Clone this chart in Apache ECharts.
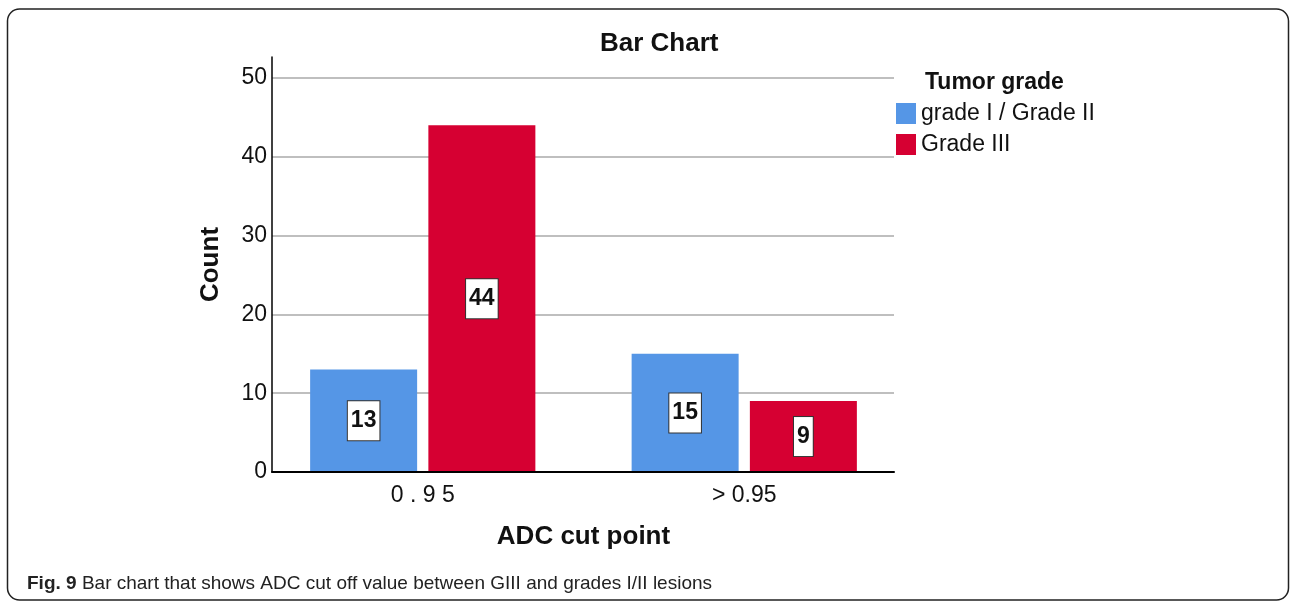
<!DOCTYPE html>
<html>
<head>
<meta charset="utf-8">
<script src="https://cdn.jsdelivr.net/npm/echarts@6/dist/echarts.min.js"></script>
<style>
  html, body { margin: 0; padding: 0; background: #fff; }
  #chart { width: 1292px; height: 601px; }
</style>
</head>
<body>
<div id="chart"></div>
<script>
const categories = ['0 . 9 5', '> 0.95'];
const seriesNames = ['grade I / Grade II', 'Grade III'];
const gradeI_II = [13, 15];
const gradeIII = [44, 9];
const yTicks = { min: 0, max: 50, interval: 10 };
const titleText = 'Bar Chart';
const legendTitle = 'Tumor grade';
const xName = 'ADC cut point';
const yName = 'Count';
const captionBold = 'Fig. 9';
const captionText = ' Bar chart that shows ADC cut off value between GIII and grades I/II lesions';

const FONT = '"Liberation Sans", Arial, sans-serif';
const colors = ['#5596E6', '#D60032'];

const chart = echarts.init(document.getElementById('chart'), null, { renderer: 'canvas' });

const labelStyle = {
  show: true,
  position: 'inside',
  color: '#111',
  fontFamily: FONT,
  fontWeight: 'bold',
  fontSize: 23,
  backgroundColor: '#fff',
  borderColor: '#333',
  borderWidth: 1,
  padding: [9, 3, 7, 3]
};

const option = {
  backgroundColor: '#fff',
  animation: false,
  textStyle: { fontFamily: FONT },
  title: [
    { text: titleText, left: 595, top: 26, textStyle: { fontFamily: FONT, fontSize: 26, fontWeight: 'bold', color: '#111' } },
    { text: legendTitle, left: 920, top: 66, textStyle: { fontFamily: FONT, fontSize: 23, fontWeight: 'bold', color: '#111' } },
    {
      text: '{b|' + captionBold + '}{n|' + captionText + '}',
      left: 22, top: 569,
      textStyle: {
        fontWeight: 'normal',
        rich: {
          b: { fontFamily: FONT, fontSize: 19, fontWeight: 'bold', color: '#222' },
          n: { fontFamily: FONT, fontSize: 19, fontWeight: 'normal', color: '#222' }
        }
      }
    }
  ],
  legend: {
    data: seriesNames,
    orient: 'vertical',
    left: 896, top: 102,
    padding: 0,
    icon: 'rect',
    itemWidth: 20, itemHeight: 21, itemGap: 8,
    textStyle: { fontFamily: FONT, fontSize: 23, color: '#111' }
  },
  grid: [
    { left: 272, right: 398, top: 57, bottom: 129 },
    { left: 272, right: 398, top: 78, bottom: 129 },
    { left: 262, width: 643, top: 78, bottom: 129 }
  ],
  xAxis: [
    { gridIndex: 0, type: 'category', data: categories, z: 5,
      axisLine: { show: true, lineStyle: { color: '#000', width: 2 } },
      axisTick: { show: false }, axisLabel: { show: false }, splitLine: { show: false } },
    { gridIndex: 1, type: 'category', data: categories, show: false },
    { gridIndex: 2, type: 'category', data: categories,
      axisLine: { show: false }, axisTick: { show: false },
      axisLabel: { show: true, margin: 12, fontFamily: FONT, fontSize: 23, color: '#111' },
      name: xName, nameLocation: 'middle', nameGap: 52,
      nameTextStyle: { fontFamily: FONT, fontSize: 26, fontWeight: 'bold', color: '#111' } }
  ],
  yAxis: [
    { gridIndex: 0, type: 'value', min: 0, max: 60, interval: 10,
      axisLine: { show: true, lineStyle: { color: '#000', width: 1.5 } },
      axisTick: { show: false }, axisLabel: { show: false }, splitLine: { show: false },
      name: yName, nameLocation: 'middle', nameRotate: 90, nameGap: 48,
      nameTextStyle: { fontFamily: FONT, fontSize: 26, fontWeight: 'bold', color: '#111' } },
    { gridIndex: 1, type: 'value', min: yTicks.min, max: yTicks.max, interval: yTicks.interval,
      axisLine: { show: false }, axisTick: { show: false },
      axisLabel: { show: true, margin: 5, fontFamily: FONT, fontSize: 23, color: '#111' },
      splitLine: { show: true, lineStyle: { color: '#aaaaaa', width: 1.5 } } },
    { gridIndex: 2, type: 'value', min: yTicks.min, max: yTicks.max, show: false }
  ],
  series: [
    { name: seriesNames[0], type: 'bar', xAxisIndex: 2, yAxisIndex: 2, data: gradeI_II,
      barWidth: 107, barGap: '10.5%', itemStyle: { color: colors[0] }, label: labelStyle },
    { name: seriesNames[1], type: 'bar', xAxisIndex: 2, yAxisIndex: 2, data: gradeIII,
      barWidth: 107, barGap: '10.5%', itemStyle: { color: colors[1] }, label: labelStyle }
  ],
  graphic: [
    { type: 'rect', silent: true, z: 100,
      shape: { x: 7.5, y: 9, width: 1281, height: 591, r: 12 },
      style: { fill: null, stroke: '#222', lineWidth: 1.5 } }
  ]
};

chart.setOption(option);
</script>
</body>
</html>
